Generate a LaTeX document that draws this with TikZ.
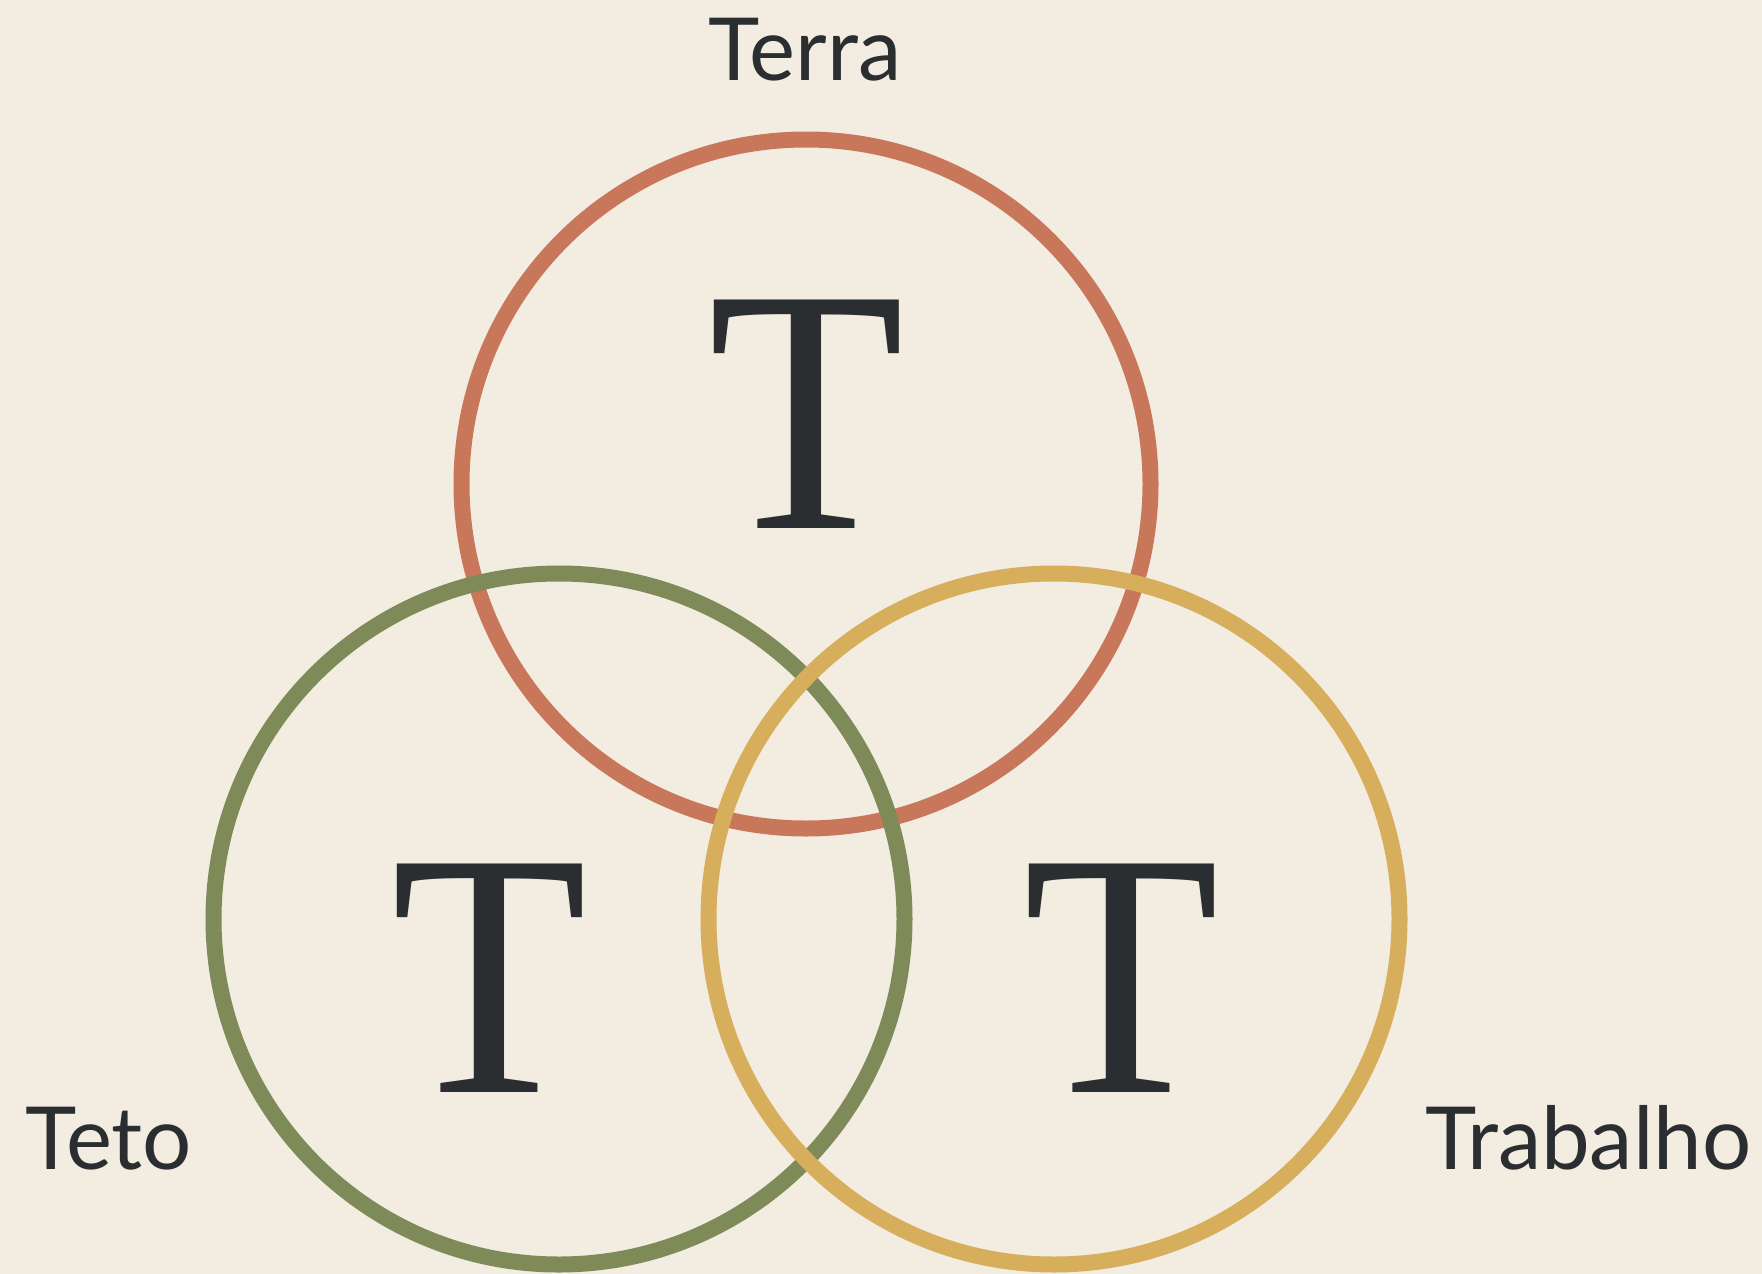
\documentclass[tikz,border=0pt]{standalone}
\usepackage{fontspec}
\setmainfont{Lato}
\newfontfamily\bigserif{Liberation Serif}
\definecolor{bgc}{HTML}{F2ECE1}
\definecolor{redc}{HTML}{C9775A}
\definecolor{greenc}{HTML}{7E8A58}
\definecolor{yellowc}{HTML}{D6AE5C}
\definecolor{inkc}{HTML}{2B2E31}
\tikzset{
  ring/.style={draw=#1, line width=16pt},
  bigT/.style={inner sep=0pt, anchor=base, text=inkc, font=\bigserif\fontsize{349}{349}\selectfont, xscale=0.92},
  lbl/.style={inner sep=0pt, text=inkc, font=\fontsize{87}{87}\selectfont}
}
\begin{document}
\begin{tikzpicture}[x=1pt,y=-1pt]
\fill[bgc] (0,0) rectangle (1762,1274);
\useasboundingbox (0,0) rectangle (1762,1274);
\node[ring=redc, circle, minimum size=689pt, inner sep=0pt] (terra) at (806,484) {};
\node[ring=greenc, circle, minimum size=691pt, inner sep=0pt] (teto) at (559,919) {};
\node[ring=yellowc, circle, minimum size=691pt, inner sep=0pt] (trab) at (1054,919) {};
\node[bigT] (t1) at (807,528) {T};
\node[bigT] (t2) at (490,1092) {T};
\node[bigT] (t3) at (1122,1092) {T};
\node[lbl, anchor=base] (lterra) at (805,80) {Terra};
\node[lbl, anchor=base west] (lteto) at (25,1169) {Teto};
\node[lbl, anchor=base west] (ltrab) at (1425,1169) {Trabalho};
\end{tikzpicture}
\end{document}
